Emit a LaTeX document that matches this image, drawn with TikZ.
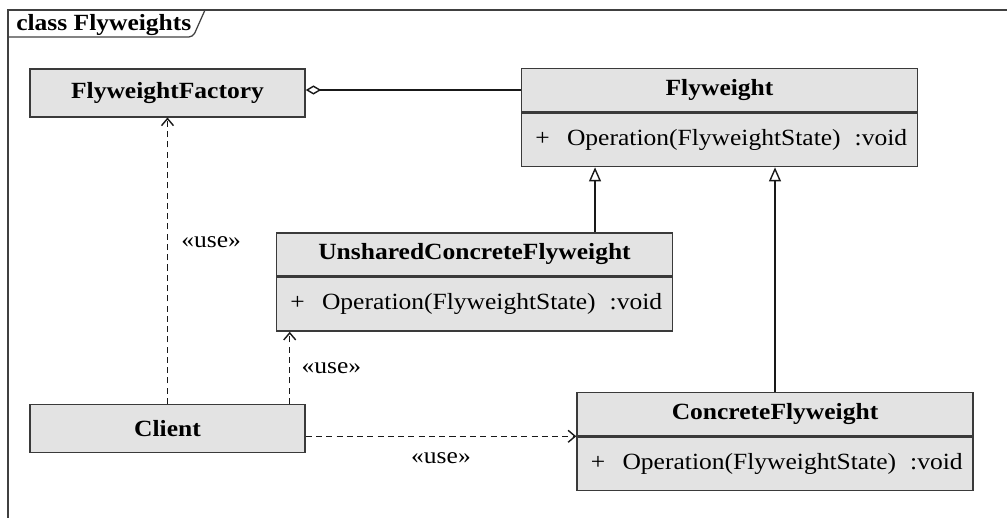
\documentclass[tikz,border=0pt]{standalone}
\usepackage{fontspec}
\setmainfont{Liberation Serif}[FakeStretch=1.1]
\usetikzlibrary{arrows.meta}
\definecolor{classfill}{HTML}{E3E3E3}
\definecolor{classline}{HTML}{3A3A3A}

\begin{document}
\begin{tikzpicture}[x=0.025cm, y=-0.025cm,
    font=\fontsize{16.5}{19}\selectfont,
    frameline/.style={draw=black!75, line width=0.9pt},
    plainclass/.style={draw=classline, fill=classfill, line width=1pt,
      minimum width=6.875cm, minimum height=1.19cm, inner sep=0pt,
      font=\fontsize{16.5}{19}\selectfont\bfseries},
    classname/.style={draw=classline, fill=classfill, line width=1pt,
      minimum width=9.9cm, minimum height=1.08cm, inner sep=0pt,
      font=\fontsize{16.5}{19}\selectfont\bfseries},
    classops/.style={draw=classline, fill=classfill, line width=1pt,
      text width=9.6cm, inner xsep=0.15cm, inner ysep=0pt,
      minimum height=1.34cm, align=left, anchor=north},
    stereo/.style={inner sep=0pt},
    dep/.style={draw=black!90, line width=1pt, dash pattern=on 4.3pt off 3pt,
      -{Straight Barb[length=5pt, width=8.5pt]}},
    gen/.style={draw=black!90, line width=1pt,
      -{Triangle[open, length=10pt, width=8.5pt]}},
    aggr/.style={draw=black!90, line width=1pt,
      {Diamond[open, length=11pt, width=6.5pt]}-}]

  \useasboundingbox (0,0) rectangle (1007,518);

  % --- diagram frame with its title tab ---
  \draw[frameline] (8,518) -- (8,10) -- (1007,10);
  \node[anchor=base west, inner sep=0pt, font=\fontsize{16.5}{19}\selectfont\bfseries]
    (title) at (16,31) {class Flyweights};
  \draw[frameline, rounded corners=3pt] (8,37) -- (193,37) -- (205,10);

  % --- classes ---
  \node[plainclass] (ff) at (167.5,93) {FlyweightFactory};

  \node[classname] (fw) at (719.5,90) {Flyweight};
  \node[classops] (fwops) at (fw.south)
    {\hspace*{0.2cm}+\hspace{0.43cm}Operation(FlyweightState)\hspace{0.35cm}:void};

  \node[classname] (ucfw) at (474.5,254.5) {UnsharedConcreteFlyweight};
  \node[classops] (ucfwops) at (ucfw.south)
    {\hspace*{0.2cm}+\hspace{0.43cm}Operation(FlyweightState)\hspace{0.35cm}:void};

  \node[classname] (cfw) at (775,414) {ConcreteFlyweight};
  \node[classops] (cfwops) at (cfw.south)
    {\hspace*{0.2cm}+\hspace{0.43cm}Operation(FlyweightState)\hspace{0.35cm}:void};

  \node[plainclass] (client) at (167.5,428.5) {Client};

  % --- aggregation and generalizations ---
  \draw[aggr] (ff.east |- fw.west) -- (fw.west);

  \coordinate (ucup) at ([xshift=3.0125cm]ucfw.north);
  \draw[gen] (ucup) -- (ucup |- fwops.south);
  \draw[gen] (cfw.north) -- (cfw.north |- fwops.south);

  % --- dependencies of the client ---
  \draw[dep] (client.north) --
    node[pos=0.566, right=0.33cm, stereo] (use1) {«use»} (ff.south);

  \coordinate (cltop) at ([xshift=-0.4cm]client.north east);
  \draw[dep] (cltop) --
    node[pos=0.5, right=0.28cm, stereo] (use2) {«use»} (cltop |- ucfwops.south);

  \draw[dep] (client.east |- cfwops.north) --
    node[below=0.4cm, stereo] (use3) {«use»} (cfwops.north west);
\end{tikzpicture}
\end{document}
